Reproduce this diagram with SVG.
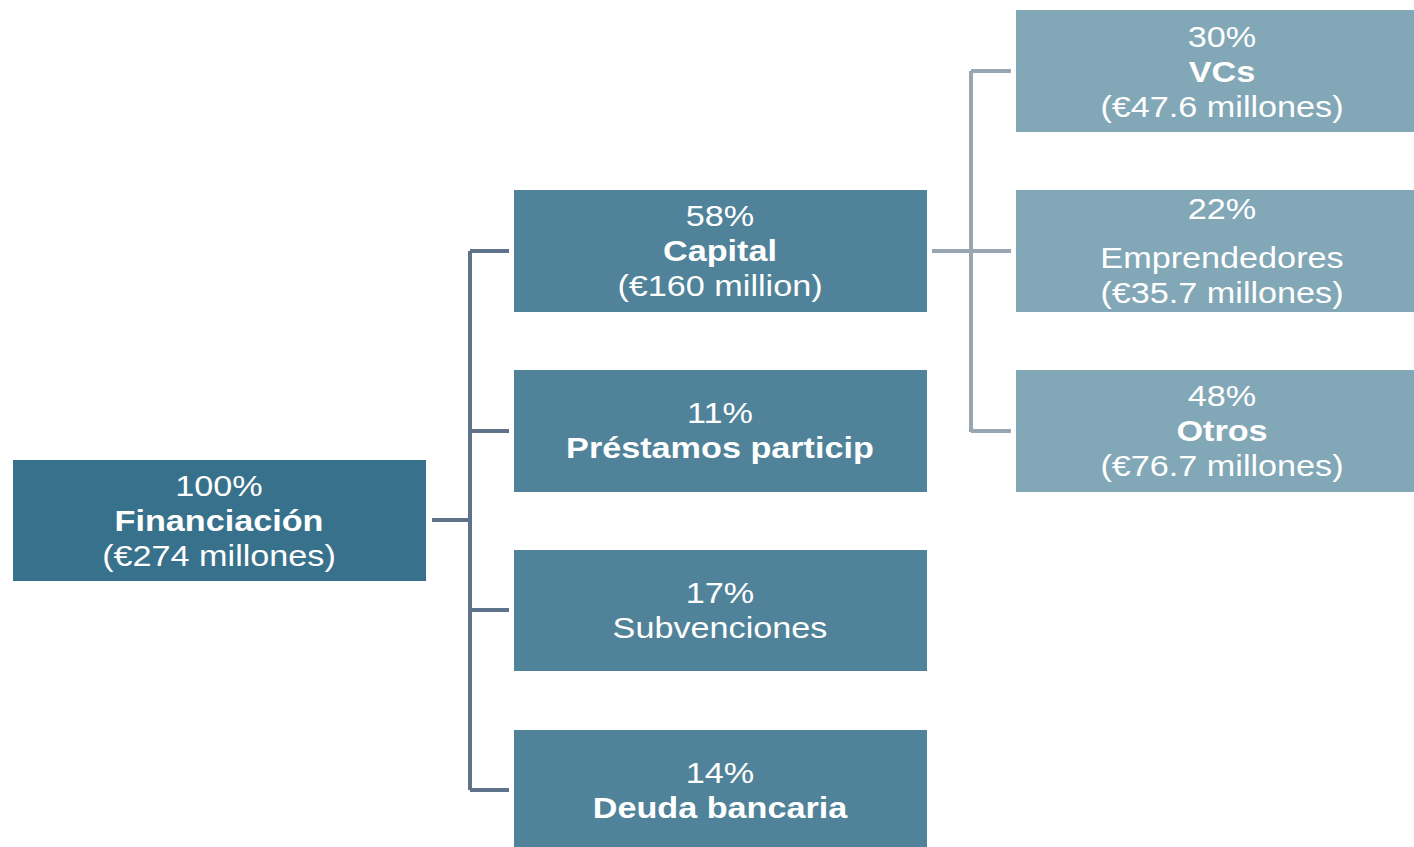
<svg xmlns="http://www.w3.org/2000/svg" width="1414" height="847" viewBox="0 0 1414 847">
<style>
.root{fill:#38718B}
.mid{fill:#508399}
.sub{fill:#82A7B6}
text{font-family:"Liberation Sans",Arial,sans-serif;font-size:30px;fill:#FFFFFF;text-anchor:middle}
.b{font-weight:bold}
.c1{fill:none;stroke:#5E7389;stroke-width:4}
.c2{fill:none;stroke:#98A5B2;stroke-width:4}
</style>
<rect width="1414" height="847" fill="#FFFFFF"/>
<g id="connectors">
<path class="c1" d="M432,520 H470 M470,251 V790 M470,251 H509 M470,431 H509 M470,610 H509 M470,790 H509"/>
<path class="c2" d="M932,251 H1011 M971,71 V432 M971,71 H1011 M971,431 H1011"/>
</g>
<g id="n-financiacion">
<rect class="root" x="13" y="460" width="413" height="121"/>
<g transform="translate(219,0) scale(1.14,1)">
<text x="0" y="496">100%</text>
<text x="0" y="531" class="b">Financiación</text>
<text x="0" y="566">(€274 millones)</text>
</g>
</g>
<g id="n-capital">
<rect class="mid" x="514" y="190" width="413" height="122"/>
<g transform="translate(720,0) scale(1.14,1)">
<text x="0" y="226">58%</text>
<text x="0" y="261" class="b">Capital</text>
<text x="0" y="296">(€160 million)</text>
</g>
</g>
<g id="n-prestamos">
<rect class="mid" x="514" y="370" width="413" height="122"/>
<g transform="translate(720,0) scale(1.14,1)">
<text x="0" y="423">11%</text>
<text x="0" y="458" class="b">Préstamos particip</text>
</g>
</g>
<g id="n-subvenciones">
<rect class="mid" x="514" y="550" width="413" height="121"/>
<g transform="translate(720,0) scale(1.14,1)">
<text x="0" y="603">17%</text>
<text x="0" y="638">Subvenciones</text>
</g>
</g>
<g id="n-deuda">
<rect class="mid" x="514" y="730" width="413" height="122"/>
<g transform="translate(720,0) scale(1.14,1)">
<text x="0" y="783">14%</text>
<text x="0" y="818" class="b">Deuda bancaria</text>
</g>
</g>
<g id="n-vcs">
<rect class="sub" x="1016" y="10" width="413" height="122"/>
<g transform="translate(1222,0) scale(1.14,1)">
<text x="0" y="47">30%</text>
<text x="0" y="82" class="b">VCs</text>
<text x="0" y="117">(€47.6 millones)</text>
</g>
</g>
<g id="n-emprendedores">
<rect class="sub" x="1016" y="190" width="413" height="122"/>
<g transform="translate(1222,0) scale(1.14,1)">
<text x="0" y="219">22%</text>
<text x="0" y="268">Emprendedores</text>
<text x="0" y="303">(€35.7 millones)</text>
</g>
</g>
<g id="n-otros">
<rect class="sub" x="1016" y="370" width="413" height="122"/>
<g transform="translate(1222,0) scale(1.14,1)">
<text x="0" y="406">48%</text>
<text x="0" y="441" class="b">Otros</text>
<text x="0" y="476">(€76.7 millones)</text>
</g>
</g>
</svg>
